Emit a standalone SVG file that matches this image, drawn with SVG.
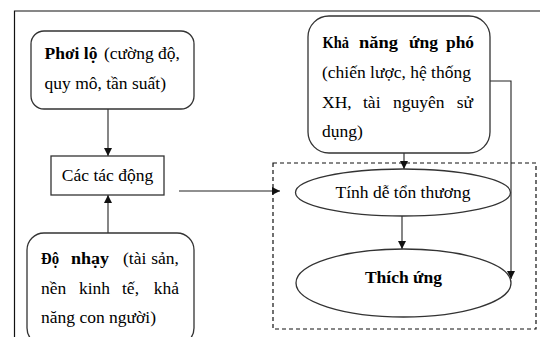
<svg xmlns="http://www.w3.org/2000/svg" width="545" height="337" viewBox="0 0 545 337">
<defs>
<style>
text{font-family:"Liberation Serif","Times New Roman",serif;font-size:17.5px;fill:#000}
.b{font-weight:bold}
.box{fill:#fff;stroke:#333;stroke-width:1.3}
.ln{fill:none;stroke:#222;stroke-width:1.1}
.frame{fill:none;stroke:#111;stroke-width:1.2}
</style>
<marker id="ah" viewBox="0 0 10 10" refX="10" refY="5" markerWidth="8" markerHeight="8" markerUnits="userSpaceOnUse" orient="auto">
<path d="M0,0 L10,5 L0,10 Z" fill="#111"/>
</marker>
</defs>
<rect width="545" height="337" fill="#fff"/>
<path class="frame" d="M14.5,337 V11 H540"/>
<rect class="frame" x="273" y="163" width="263" height="166" stroke-dasharray="4,3" stroke-width="1"/>

<g id="connectors">
<line class="ln" x1="108" y1="109" x2="108" y2="156" marker-end="url(#ah)"/>
<line class="ln" x1="108" y1="233" x2="108" y2="195" marker-end="url(#ah)"/>
<line class="ln" x1="179" y1="191" x2="280" y2="191" marker-end="url(#ah)"/>
<line class="ln" x1="404" y1="153" x2="404" y2="169" marker-end="url(#ah)"/>
<line class="ln" x1="402" y1="216" x2="402" y2="249" marker-end="url(#ah)"/>
<polyline class="ln" points="490,81 511,81 511,279" marker-end="url(#ah)"/>
</g>

<g id="phoi-lo">
<rect class="box" x="31" y="31" width="163" height="78" rx="13"/>
<text class="b" x="44.5" y="59">Phơi lộ</text>
<text x="180" y="59" text-anchor="end">(cường độ,</text>
<text x="44.5" y="89">quy mô, tần suất)</text>
</g>

<g id="cac-tac-dong">
<rect class="box" x="51" y="156" width="113" height="39"/>
<text x="107.5" y="181" text-anchor="middle">Các tác động</text>
</g>

<g id="do-nhay">
<rect class="box" x="27" y="233" width="167" height="112" rx="17"/>
<text class="b" x="41" y="264" textLength="18" lengthAdjust="spacingAndGlyphs">Độ</text>
<text class="b" x="71" y="264" textLength="38" lengthAdjust="spacingAndGlyphs">nhạy</text>
<text x="123" y="264">(tài</text>
<text x="179" y="264" text-anchor="end">sản,</text>
<text x="41" y="294">nền</text>
<text x="79" y="294">kinh</text>
<text x="122" y="294">tế,</text>
<text x="179" y="294" text-anchor="end">khả</text>
<text x="41" y="323">năng con người)</text>
</g>

<g id="kha-nang">
<rect class="box" x="308" y="16" width="182" height="137" rx="21"/>
<text class="b" x="322.5" y="48" textLength="26.5" lengthAdjust="spacingAndGlyphs">Khả</text>
<text class="b" x="359" y="48" textLength="39" lengthAdjust="spacingAndGlyphs">năng</text>
<text class="b" x="409" y="48" textLength="29" lengthAdjust="spacingAndGlyphs">ứng</text>
<text class="b" x="446" y="48" textLength="28" lengthAdjust="spacingAndGlyphs">phó</text>
<text x="322" y="78">(chiến lược, hệ thống</text>
<text x="322" y="108">XH,</text>
<text x="363" y="108">tài</text>
<text x="393" y="108">nguyên</text>
<text x="473" y="108" text-anchor="end">sử</text>
<text x="322" y="137">dụng)</text>
</g>

<g id="tinh-de-ton-thuong">
<ellipse class="box" cx="403" cy="192.5" rx="107.5" ry="23.5"/>
<text x="403" y="198" text-anchor="middle">Tính dễ tổn thương</text>
</g>

<g id="thich-ung">
<ellipse class="box" cx="403.5" cy="283" rx="107.5" ry="34"/>
<text class="b" x="403.5" y="283" text-anchor="middle">Thích ứng</text>
</g>
</svg>
